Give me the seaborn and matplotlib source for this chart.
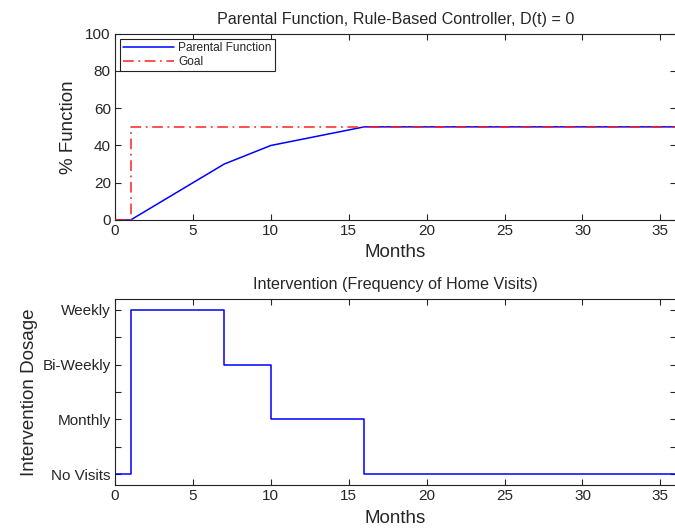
import pandas as pd
import matplotlib
matplotlib.use('Agg')
import matplotlib.pyplot as plt
import seaborn as sns

# Data
months_pf = [0, 1, 7, 10, 16, 36]
parental_function = [0, 0, 30, 40, 50, 50]
months_goal = [0, 1, 1, 36]
goal = [0, 0, 50, 50]
months_dose = [0, 1, 7, 10, 16, 36]
dosage = [0, 3, 2, 1, 0, 0]
dose_labels = ['No Visits', 'Monthly', 'Bi-Weekly', 'Weekly']

sns.set_style('ticks')
plt.rcParams['font.family'] = ['Liberation Sans', 'DejaVu Sans']
plt.rcParams['axes.linewidth'] = 0.8
plt.rcParams['xtick.direction'] = 'in'
plt.rcParams['ytick.direction'] = 'in'
plt.rcParams['xtick.top'] = True
plt.rcParams['ytick.right'] = True
plt.rcParams['axes.edgecolor'] = '#222222'

fig = plt.figure(figsize=(6.75, 5.31), dpi=100)
ax1 = fig.add_axes([0.1704, 0.5857, 0.831, 0.3508])
ax2 = fig.add_axes([0.1704, 0.0866, 0.831, 0.3503])

pf_df = pd.DataFrame({'Months': months_pf, 'Value': parental_function})
goal_df = pd.DataFrame({'Months': months_goal, 'Value': goal})
dose_df = pd.DataFrame({'Months': months_dose, 'Value': dosage})

# top panel: blue first, goal dash-dot drawn over it
sns.lineplot(data=pf_df, x='Months', y='Value', ax=ax1, color='#0000ff', lw=1.1,
             sort=False, estimator=None, label='Parental Function', zorder=2)
sns.lineplot(data=goal_df, x='Months', y='Value', ax=ax1, color='#ff2020', lw=1.1,
             sort=False, estimator=None, label='Goal',
             linestyle=(0, (7, 3, 1.2, 3)), zorder=3)

ax1.set_xlim(0, 36)
ax1.set_ylim(0, 100)
ax1.set_xticks(range(0, 36, 5))
ax1.set_yticks(range(0, 101, 20))
ax1.tick_params(labelsize=11, length=4, width=0.8, pad=3)
ax1.set_title('Parental Function, Rule-Based Controller, D(t) = 0', fontsize=11.6, pad=7)
ax1.set_xlabel('Months', fontsize=13.5, labelpad=4)
ax1.set_ylabel('% Function', fontsize=13.5, labelpad=6)
leg = ax1.legend(loc='upper left', fontsize=8.6, frameon=True, fancybox=False,
                 framealpha=1, edgecolor='#222222', borderpad=0.25,
                 handlelength=4.2, handletextpad=0.4, labelspacing=0.2,
                 borderaxespad=0.45)
leg.get_frame().set_linewidth(0.8)

# bottom panel
sns.lineplot(data=dose_df, x='Months', y='Value', ax=ax2, color='#0000ff', lw=1.1,
             sort=False, estimator=None, drawstyle='steps-post')
ax2.set_xlim(0, 36)
ax2.set_ylim(-0.2, 3.2)
ax2.set_xticks(range(0, 36, 5))
ax2.set_yticks([0, 0.5, 1, 1.5, 2, 2.5, 3])
ax2.set_yticklabels([dose_labels[0], '', dose_labels[1], '', dose_labels[2], '', dose_labels[3]])
ax2.tick_params(labelsize=11, length=4, width=0.8, pad=3)
ax2.set_title('Intervention (Frequency of Home Visits)', fontsize=11.6, pad=7)
ax2.set_xlabel('Months', fontsize=13.5, labelpad=5)
ax2.set_ylabel('Intervention Dosage', fontsize=13.5, labelpad=3)

fig.savefig('out.png', dpi=100)
